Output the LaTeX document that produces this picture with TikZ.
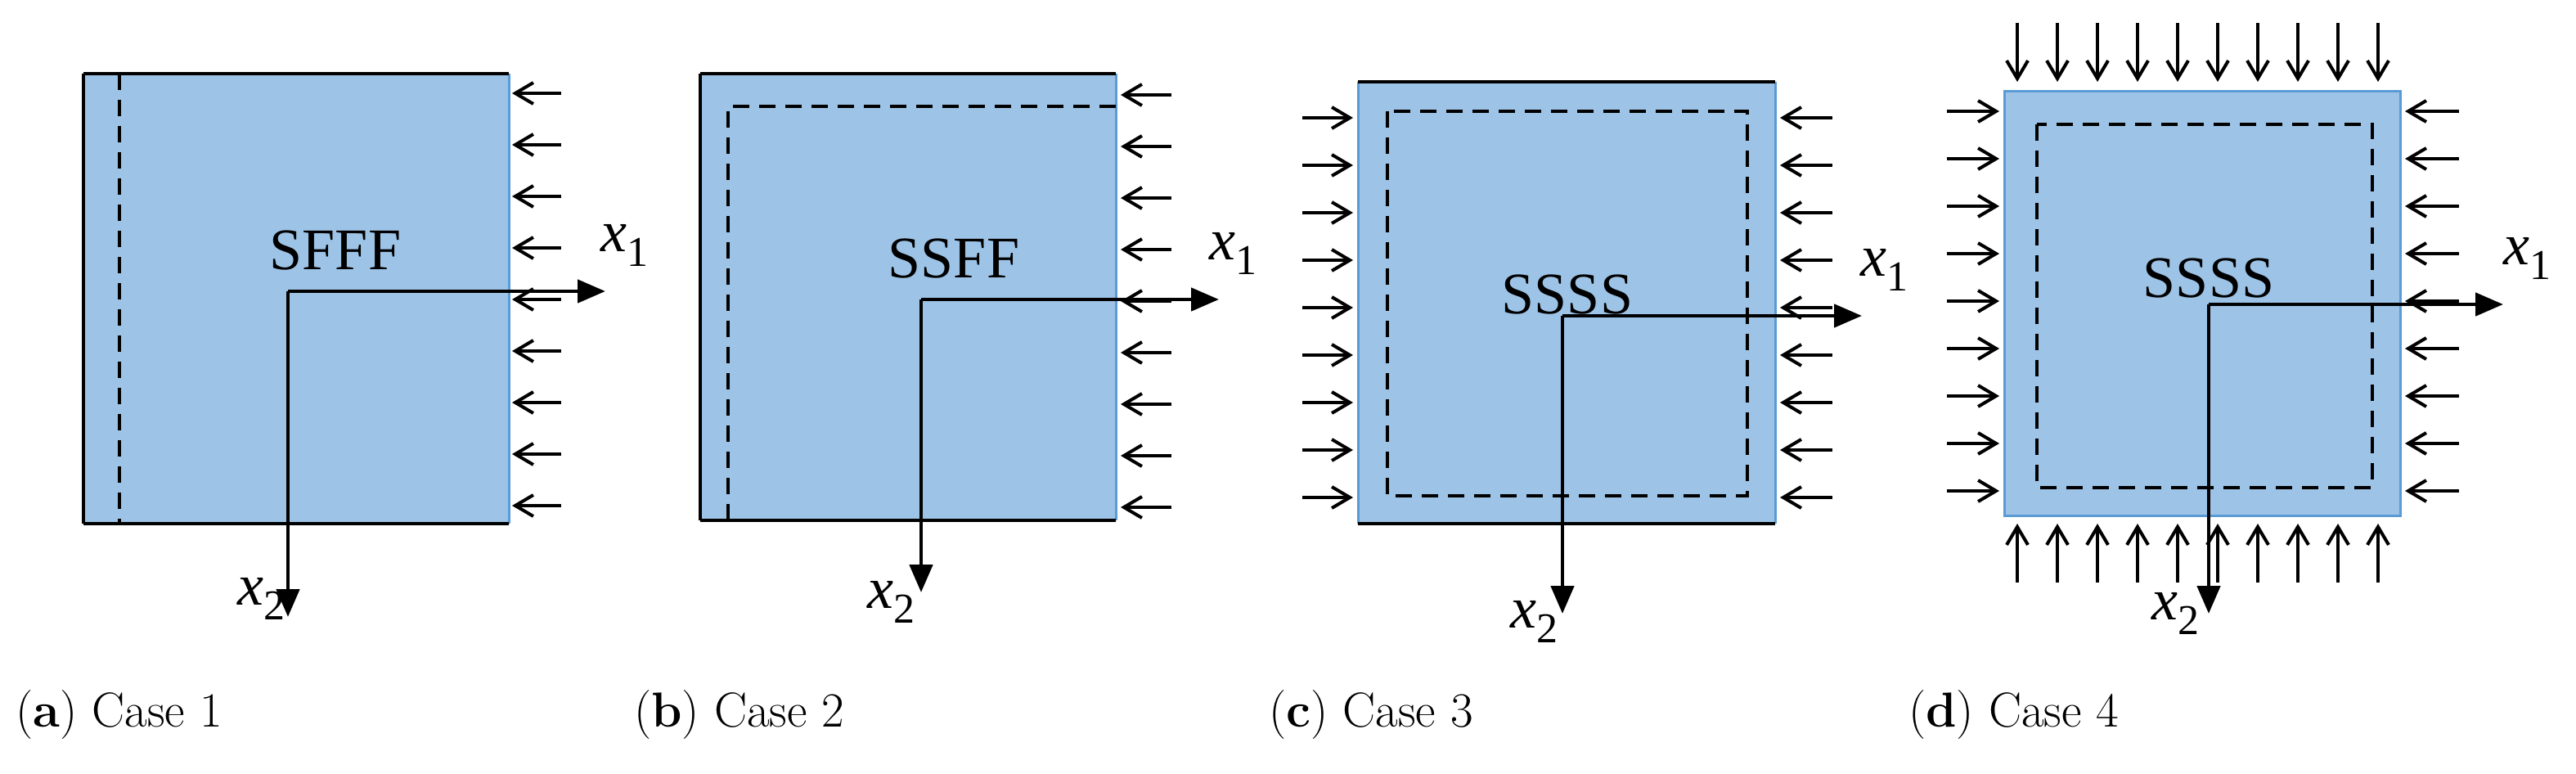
\documentclass[tikz,border=0pt]{standalone}
\usepackage{fontspec}
\newfontfamily\timesfam{Liberation Serif}
\usetikzlibrary{arrows.meta}
\definecolor{plate}{HTML}{9DC3E6}
\definecolor{edge}{HTML}{5B9BD5}
\begin{document}
\begin{tikzpicture}[x=1pt,y=-1pt,
  bnd/.style={line width=2.4pt,black},
  dsh/.style={line width=2pt,dash pattern=on 10pt off 6pt},
  ld/.style={line width=2pt,-{Straight Barb[length=11pt,width=13pt]}},
  ax/.style={line width=2.4pt,-{Triangle[length=17pt,width=14pt]}},
  lbl/.style={font=\timesfam\fontsize{36}{36}\selectfont},
  axl/.style={font=\timesfam\itshape\fontsize{36}{36}\selectfont},
  capt/.style={anchor=west,font=\fontsize{30}{30}\selectfont}]
\useasboundingbox (0,0) rectangle (1574.5,473);
% ---------- (a)
\fill[plate] (51,45) rectangle (311,320);
\draw[edge,line width=1.5pt] (311,45) -- (311,320);
\draw[bnd] (51,45) -- (311,45) (51,320) -- (311,320) (51,45) -- (51,320);
\draw[dsh] (73,45) -- (73,320);
\foreach \i in {0,...,8} \draw[ld] (343,{57+\i*31.5}) -- (313,{57+\i*31.5});
\node[lbl] (ta) at (205,153) {SFFF};
\coordinate (oa) at (176,178);
\coordinate (a1) at (370,178); \coordinate (a2) at (176,377);
\draw[ax] (oa) -- (a1);
\draw[ax] (oa) -- (a2);
\node[axl] (la1) at (382,150) {x\textsubscript{\fontsize{26}{26}\selectfont\upshape 1}};
\node[axl] (la2) at (160,366) {x\textsubscript{\fontsize{26}{26}\selectfont\upshape 2}};
% ---------- (b)
\fill[plate] (428,45) rectangle (682,318);
\draw[edge,line width=1.5pt] (682,45) -- (682,318);
\draw[bnd] (428,45) -- (682,45) (428,318) -- (682,318) (428,45) -- (428,318);
\draw[dsh] (682,65) -- (445,65) -- (445,318);
\foreach \i in {0,...,8} \draw[ld] (716,{58+\i*31.5}) -- (685,{58+\i*31.5});
\node[lbl] (tb) at (583,158) {SSFF};
\coordinate (ob) at (563,183);
\coordinate (b1) at (745,183); \coordinate (b2) at (563,362);
\draw[ax] (ob) -- (b1);
\draw[ax] (ob) -- (b2);
\node[axl] (lb1) at (754,155) {x\textsubscript{\fontsize{26}{26}\selectfont\upshape 1}};
\node[axl] (lb2) at (545,368) {x\textsubscript{\fontsize{26}{26}\selectfont\upshape 2}};
% ---------- (c)
\fill[plate] (830,50) rectangle (1085,320);
\draw[edge,line width=1.5pt] (830,50) -- (830,320) (1085,50) -- (1085,320);
\draw[bnd] (830,50) -- (1085,50) (830,320) -- (1085,320);
\draw[dsh] (848,68) rectangle (1068,303);
\foreach \i in {0,...,8} {
  \draw[ld] (796,{72+\i*29}) -- (827,{72+\i*29});
  \draw[ld] (1120,{72+\i*29}) -- (1088,{72+\i*29});}
\node[lbl] (tc) at (958,180) {SSSS};
\coordinate (oc) at (955,193);
\coordinate (c1) at (1138,193); \coordinate (c2) at (955,375);
\draw[ax] (oc) -- (c1);
\draw[ax] (oc) -- (c2);
\node[axl] (lc1) at (1152,165) {x\textsubscript{\fontsize{26}{26}\selectfont\upshape 1}};
\node[axl] (lc2) at (938,380) {x\textsubscript{\fontsize{26}{26}\selectfont\upshape 2}};
% ---------- (d)
\fill[plate] (1225,56) rectangle (1467,315);
\draw[edge,line width=1.5pt] (1225,56) rectangle (1467,315);
\draw[dsh] (1245,76) rectangle (1450,298);
\foreach \i in {0,...,8} {
  \draw[ld] (1190,{68+\i*29}) -- (1222,{68+\i*29});
  \draw[ld] (1503,{68+\i*29}) -- (1470,{68+\i*29});}
\foreach \i in {0,...,9} {
  \draw[ld] ({1233+\i*24.5},14) -- ({1233+\i*24.5},50);
  \draw[ld] ({1233+\i*24.5},356) -- ({1233+\i*24.5},320);}
\node[lbl] (td) at (1350,170) {SSSS};
\coordinate (od) at (1350,186);
\coordinate (d1) at (1530,186); \coordinate (d2) at (1350,375);
\draw[ax] (od) -- (d1);
\draw[ax] (od) -- (d2);
\node[axl] (ld1) at (1545,158) {x\textsubscript{\fontsize{26}{26}\selectfont\upshape 1}};
\node[axl] (ld2) at (1330,375) {x\textsubscript{\fontsize{26}{26}\selectfont\upshape 2}};
% ---------- captions
\node[capt] (ca) at (6,437) {(\textbf{a}) Case 1};
\node[capt] (cb) at (384,437) {(\textbf{b}) Case 2};
\node[capt] (cc) at (772,437) {(\textbf{c}) Case 3};
\node[capt] (cd) at (1163,437) {(\textbf{d}) Case 4};
\end{tikzpicture}
\end{document}
